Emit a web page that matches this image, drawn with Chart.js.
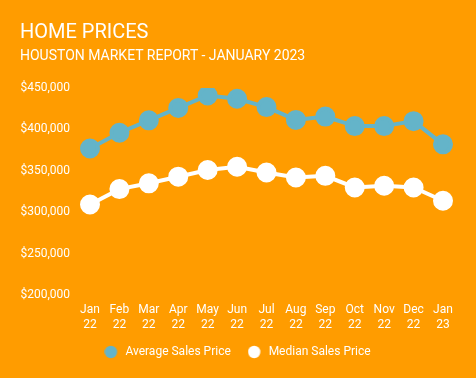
<!DOCTYPE html>
<html>
<head>
<meta charset="utf-8">
<script src="https://cdn.jsdelivr.net/npm/chart.js@4"></script>
<style>
  html, body { margin: 0; padding: 0; }
  body { width: 476px; height: 378px; background: #FF9C00; position: relative; overflow: hidden; font-family: Roboto, sans-serif; }
  #title { position: absolute; left: 20px; top: 19px; color: #fff; font-size: 20px; font-weight: 400; margin: 0; line-height: 24px; }
  #subtitle { position: absolute; left: 20px; top: 47px; color: #fff; font-size: 14px; font-weight: 400; margin: 0; line-height: 16px; }
  #wrap { position: absolute; left: 0; top: 0; width: 476px; height: 378px; }
</style>
</head>
<body>
<div id="wrap"><canvas id="c" width="476" height="378"></canvas></div>
<h1 id="title">HOME PRICES</h1>
<h2 id="subtitle">HOUSTON MARKET REPORT - JANUARY 2023</h2>
<script>
const categories = [["Jan","22"],["Feb","22"],["Mar","22"],["Apr","22"],["May","22"],["Jun","22"],["Jul","22"],["Aug","22"],["Sep","22"],["Oct","22"],["Nov","22"],["Dec","22"],["Jan","23"]];
const averageSalesPrice = [377000, 396000, 411000, 426000, 441000, 437000, 427000, 411500, 415500, 404000, 404000, 410000, 382000];
const medianSalesPrice = [309500, 328000, 335000, 343000, 351000, 355000, 348000, 342000, 344000, 330000, 332000, 330000, 314000];
const yTicks = [200000, 250000, 300000, 350000, 400000, 450000];

const blue = '#64B4C9';
const white = '#FFFFFF';

function legendDot(color) {
  const c = document.createElement('canvas');
  c.width = 22; c.height = 14;
  const g = c.getContext('2d');
  g.fillStyle = color;
  g.beginPath(); g.arc(6.5, 7, 6.2, 0, Math.PI * 2); g.fill();
  return c;
}
const dots = [legendDot(blue), legendDot(white)];

new Chart(document.getElementById('c'), {
  type: 'line',
  data: {
    labels: categories,
    datasets: [
      { label: 'Average Sales Price', data: averageSalesPrice, borderColor: blue, backgroundColor: blue,
        pointBackgroundColor: blue, pointBorderColor: blue, borderWidth: 4, pointRadius: 8, pointHoverRadius: 8, tension: 0, fill: false },
      { label: 'Median Sales Price', data: medianSalesPrice, borderColor: white, backgroundColor: white,
        pointBackgroundColor: white, pointBorderColor: white, borderWidth: 4, pointRadius: 8, pointHoverRadius: 8, tension: 0, fill: false }
    ]
  },
  options: {
    responsive: false,
    animation: false,
    layout: { padding: { left: 6, right: 0, top: 88, bottom: 10 } },
    plugins: {
      tooltip: { enabled: false },
      legend: {
        position: 'bottom',
        labels: {
          usePointStyle: true, boxWidth: 8, boxHeight: 8, color: '#FFFFFF',
          font: { family: 'Roboto', size: 12 }, padding: 6,
          generateLabels: (chart) => chart.data.datasets.map((ds, i) => ({
            text: ds.label + (i === 0 ? '      ' : ''),
            fillStyle: ds.backgroundColor, strokeStyle: ds.borderColor, lineWidth: 0,
            pointStyle: dots[i], hidden: !chart.isDatasetVisible(i), datasetIndex: i, fontColor: '#FFFFFF'
          }))
        }
      }
    },
    scales: {
      x: {
        offset: false,
        grid: { display: false, drawTicks: false },
        border: { display: false },
        ticks: { color: '#FFFFFF', font: { family: 'Roboto', size: 12 }, maxRotation: 0, autoSkip: false, padding: 8 }
      },
      y: {
        min: 200000, max: 450000,
        afterBuildTicks: (axis) => { axis.ticks = yTicks.map(v => ({ value: v })); },
        afterFit: (axis) => { axis.width = 84; },
        grid: { display: false, drawTicks: false },
        border: { display: false },
        ticks: { color: '#FFFFFF', font: { family: 'Roboto', size: 12 }, padding: 20,
          callback: (v) => '$' + v.toLocaleString('en-US') }
      },
      yRightSpace: {
        position: 'right',
        display: true,
        grid: { display: false, drawTicks: false },
        border: { display: false },
        ticks: { display: false },
        afterFit: (axis) => { axis.width = 33; }
      }
    }
  }
});
</script>
</body>
</html>
